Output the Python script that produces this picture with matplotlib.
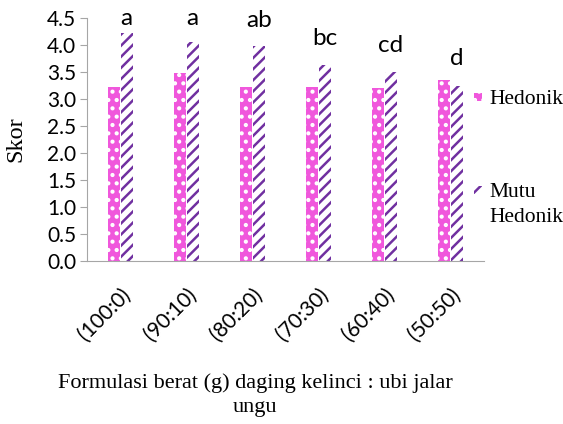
import matplotlib
matplotlib.use('Agg')
import matplotlib.pyplot as plt
import matplotlib.patches as mpatches
import numpy as np

categories = ['(100:0)', '(90:10)', '(80:20)', '(70:30)', '(60:40)', '(50:50)']
hedonik = [3.23, 3.48, 3.22, 3.22, 3.21, 3.36]
mutu_hedonik = [4.22, 4.06, 3.98, 3.64, 3.51, 3.25]
notasi = ['a', 'a', 'ab', 'bc', 'cd', 'd']
notasi_y = [4.37, 4.37, 4.34, 4.00, 3.87, 3.63]

pink = '#F057DC'
purple = '#7030A0'
grey = '#A6A6A6'
sans = ['Lato', 'DejaVu Sans']
serif = ['Liberation Serif', 'DejaVu Serif']

plt.rcParams['hatch.linewidth'] = 1.8

fig = plt.figure(figsize=(5.63, 4.24), dpi=100)
ax = fig.add_axes([0.1554, 0.385, 0.7034, 0.572])

x = np.arange(len(categories))
w = 0.178
ax.bar(x - 0.095, hedonik, w, color=pink, edgecolor='white', linewidth=0, hatch='..')
ax.bar(x + 0.095, mutu_hedonik, w, color='white', edgecolor=purple, linewidth=0, hatch='///')

for xi, lab, yl in zip(x, notasi, notasi_y):
    ax.text(xi + 0.095, yl, lab, ha='center', va='baseline', fontsize=17.5, family=sans)

ax.set_xlim(-0.5, len(categories) - 0.5)
ax.set_ylim(0, 4.5)
ax.set_yticks(np.arange(0, 4.51, 0.5))
ax.set_yticklabels([f'{v:.1f}' for v in np.arange(0, 4.51, 0.5)], family=sans, fontsize=15)
ax.set_xticks(x)
ax.set_xticklabels(categories, rotation=45, ha='right', va='top', rotation_mode='anchor',
                   family=sans, fontsize=15)
ax.tick_params(axis='x', length=0, pad=17)
ax.tick_params(axis='y', length=5, color=grey, pad=3)
for s in ['top', 'right']:
    ax.spines[s].set_visible(False)
ax.spines['left'].set_color(grey)
ax.spines['bottom'].set_color(grey)

ax.set_ylabel('Skor', family=serif, fontsize=17.5, labelpad=15)

fig.text(255 / 563, 1 - 373 / 424, 'Formulasi berat (g) daging kelinci : ubi jalar\nungu',
         ha='center', va='top', family=serif, fontsize=16, linespacing=1.4)

# legend
fig.patches.append(mpatches.Rectangle((474 / 563, 1 - 101 / 424), 8 / 563, 8 / 424,
                                      transform=fig.transFigure, facecolor=pink,
                                      edgecolor='white', linewidth=0, hatch='..'))
fig.patches.append(mpatches.Rectangle((474 / 563, 1 - 194 / 424), 8 / 563, 8 / 424,
                                      transform=fig.transFigure, facecolor='white',
                                      edgecolor=purple, linewidth=0, hatch='///'))
fig.text(489 / 563, 1 - 104 / 424, 'Hedonik', ha='left', va='baseline',
         family=serif, fontsize=15.5)
fig.text(489 / 563, 1 - 197 / 424, 'Mutu', ha='left', va='baseline',
         family=serif, fontsize=15.5)
fig.text(489 / 563, 1 - 221.5 / 424, 'Hedonik', ha='left', va='baseline',
         family=serif, fontsize=15.5)

fig.savefig('out.png', dpi=100)
